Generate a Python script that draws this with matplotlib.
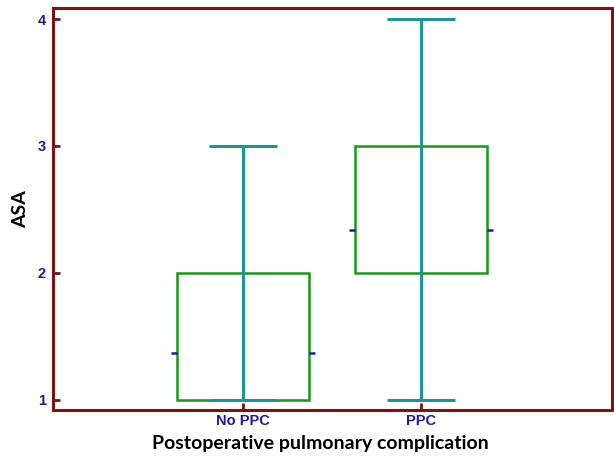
import matplotlib.pyplot as plt
from matplotlib.patches import Rectangle

# ASA score summary per group
groups = ["No PPC", "PPC"]
q1 = [1, 2]
q3 = [2, 3]
lo = [1, 1]
hi = [3, 4]
means = [1.37, 2.34]

axis_col = "#7a1414"
box_col = "#1a961a"
whisk_col = "#1f9696"
lab_col = "#1c1c96"

fig = plt.figure(figsize=(6.14, 4.59), dpi=100)
ax = fig.add_axes([0.0863, 0.1068, 0.9104, 0.8758])

pos = [1, 2]
half_box = 0.371
half_cap = 0.19
for i, x in enumerate(pos):
    ax.add_patch(Rectangle((x - half_box, q1[i]), 2 * half_box, q3[i] - q1[i],
                           fill=False, edgecolor=box_col, lw=1.8, zorder=2))
    ax.plot([x, x], [lo[i], hi[i]], color=whisk_col, lw=2.2, zorder=3)
    ax.hlines([lo[i], hi[i]], x - half_cap, x + half_cap, color=whisk_col, lw=2.2, zorder=3)
    # mean marks either side of the box
    ax.hlines(means[i], x - half_box - 0.033, x - half_box, color=lab_col, lw=1.8, zorder=3)
    ax.hlines(means[i], x + half_box, x + half_box + 0.033, color=lab_col, lw=1.8, zorder=3)

ax.set_xlim(-0.067, 3.07)
ax.set_ylim(0.92, 4.087)
ax.set_xticks(pos)
ax.set_xticklabels(groups)
ax.set_yticks([1, 2, 3, 4])

for s in ax.spines.values():
    s.set_color(axis_col)
    s.set_linewidth(2.2)
ax.tick_params(direction="in", length=5, width=2, color=axis_col,
               labelcolor=lab_col, labelsize=10.5)
for t in ax.get_xticklabels() + ax.get_yticklabels():
    t.set_fontweight("bold")
    t.set_fontfamily("Liberation Sans")
ax.tick_params(axis="x", pad=3)
ax.tick_params(axis="y", pad=5)

ax.set_xlabel("Postoperative pulmonary complication", fontsize=14,
              fontweight="bold", family="Lato")
ax.set_ylabel("ASA", fontsize=14, fontweight="bold", family="Lato")
ax.xaxis.set_label_coords(0.479, -0.062)
ax.yaxis.set_label_coords(-0.042, 0.5)

fig.savefig("out.png", dpi=100)
